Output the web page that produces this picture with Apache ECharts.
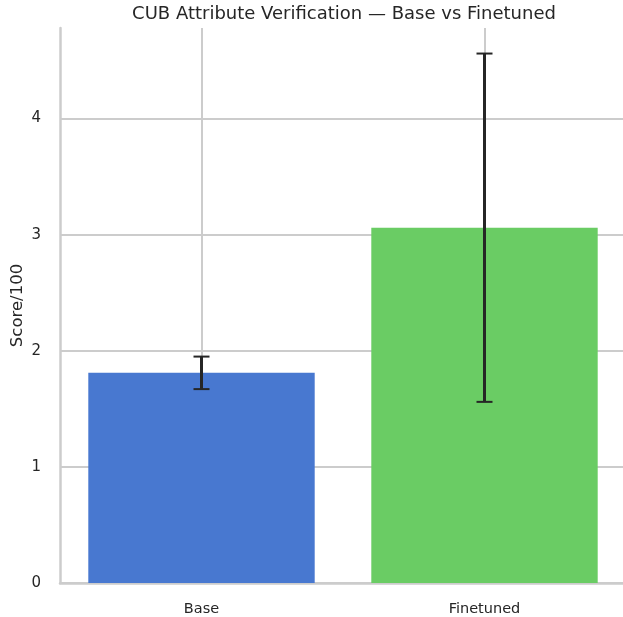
<!DOCTYPE html>
<html><head><meta charset="utf-8">
<script src="https://cdn.jsdelivr.net/npm/echarts@6/dist/echarts.min.js"></script>
<style>html,body{margin:0;padding:0;background:#fff}#c{width:623px;height:617px}</style>
</head><body><div id="c"></div>
<script>
const categories = ['Base', 'Finetuned'];
const means = [1.81, 3.06];
const errors = [0.14, 1.50];
const colors = ['#4878d0', '#6acc64'];
const yTicks = [0, 1, 2, 3, 4];

const chart = echarts.init(document.getElementById('c'), null, {renderer: 'canvas'});
const font = 'DejaVu Sans';
chart.setOption({
  animation: false,
  backgroundColor: '#ffffff',
  title: {
    text: 'CUB Attribute Verification — Base vs Finetuned',
    left: 339, top: 0, textAlign: 'center',
    textStyle: {fontFamily: font, fontSize: 18, fontWeight: 'normal', color: '#262626'}
  },
  grid: {left: 60, top: 28, width: 566, height: 555, containLabel: false, outerBoundsMode: 'none'},
  xAxis: {
    type: 'category', data: categories,
    axisLine: {show: true, lineStyle: {color: '#cccccc', width: 2.5}},
    axisTick: {show: false},
    axisLabel: {fontFamily: font, fontSize: 14.5, color: '#262626', margin: 19},
    splitLine: {show: true, alignWithLabel: true, lineStyle: {color: '#cccccc', width: 2}}
  },
  yAxis: {
    type: 'value', min: 0, max: 4.78, interval: 1,
    name: 'Score/100', nameLocation: 'middle', nameGap: 34, nameMoveOverlap: false,
    nameTextStyle: {fontFamily: font, fontSize: 16.5, color: '#262626'},
    axisLine: {show: true, lineStyle: {color: '#cccccc', width: 2.5}},
    axisTick: {show: false},
    axisLabel: {fontFamily: font, fontSize: 15, color: '#262626', margin: 19,
      formatter: v => yTicks.includes(v) ? String(v) : ''},
    splitLine: {show: true, showMaxLine: false, lineStyle: {color: '#cccccc', width: 2}}
  },
  series: [
    {
      type: 'bar', barWidth: '80%',
      data: means.map((v, i) => ({value: v, itemStyle: {color: colors[i]}})),
      z: 2
    },
    {
      type: 'custom', z: 5,
      data: means.map((v, i) => [i, v - errors[i], v + errors[i]]),
      renderItem: function (params, api) {
        const x = api.value(0);
        const lo = api.coord([x, api.value(1)]);
        const hi = api.coord([x, api.value(2)]);
        const cw = 8;
        return {type: 'group', children: [
          {type: 'line', shape: {x1: lo[0], y1: lo[1], x2: hi[0], y2: hi[1]}, style: {stroke: '#262626', lineWidth: 3}},
          {type: 'line', shape: {x1: lo[0] - cw, y1: lo[1], x2: lo[0] + cw, y2: lo[1]}, style: {stroke: '#262626', lineWidth: 2}},
          {type: 'line', shape: {x1: hi[0] - cw, y1: hi[1], x2: hi[0] + cw, y2: hi[1]}, style: {stroke: '#262626', lineWidth: 2}}
        ]};
      }
    }
  ]
});
</script></body></html>
